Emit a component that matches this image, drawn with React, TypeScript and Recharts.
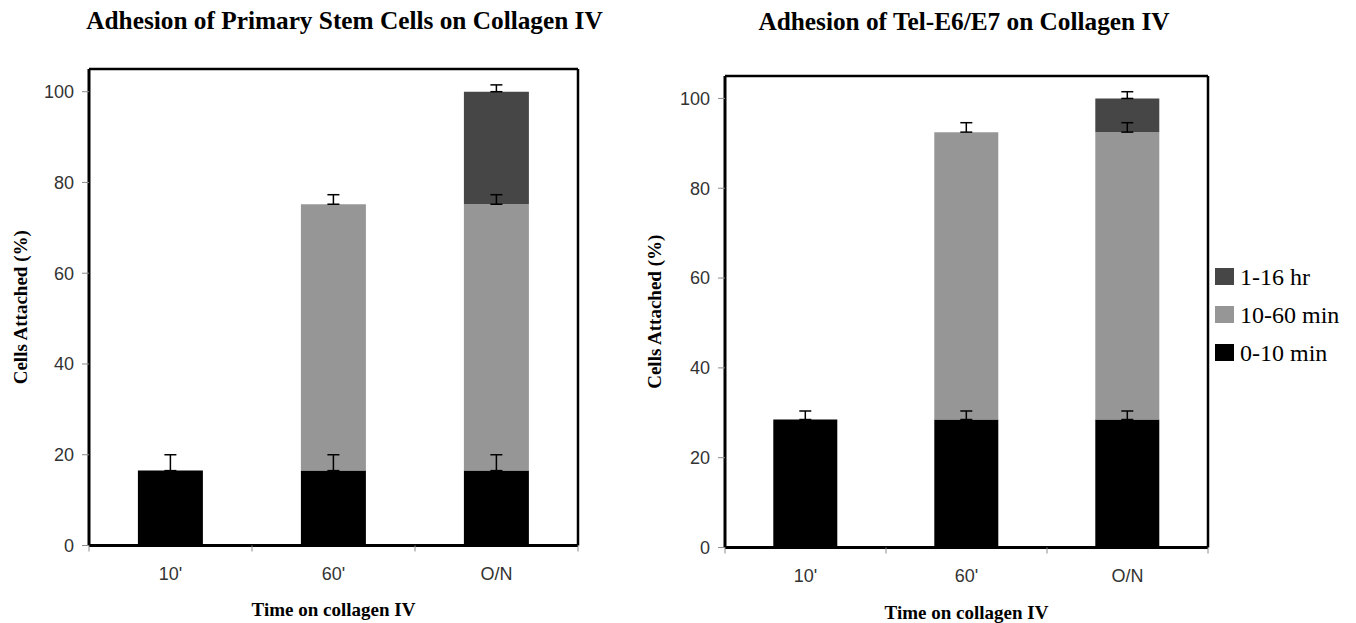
import React from 'react';
import { BarChart, Bar, XAxis, YAxis, ErrorBar, Legend, Label, ReferenceLine } from 'recharts';

const categories = ["10'", "60'", 'O/N'];
const seriesNames = ['0-10 min', '10-60 min', '1-16 hr'];
const seriesColors = ['#000000', '#969696', '#464646'];
const yTicks = [0, 20, 40, 60, 80, 100];
const yMax = 105;

// Primary stem cells
const stemEarly = [16.5, 16.5, 16.5];
const stemMid = [0, 58.7, 58.7];
const stemLate = [0, 0, 24.8];
const stemEarlyErr = [3.5, 3.5, 3.5];
const stemMidErr: (number | null)[] = [null, 2.1, 2.1];
const stemLateErr: (number | null)[] = [null, null, 1.5];

// Tel-E6/E7
const telEarly = [28.5, 28.5, 28.5];
const telMid = [0, 64, 64];
const telLate = [0, 0, 7.5];
const telEarlyErr = [1.9, 1.9, 1.9];
const telMidErr: (number | null)[] = [null, 2.1, 2.1];
const telLateErr: (number | null)[] = [null, null, 1.5];

const up = (e: number | null) => (e == null ? undefined : [0, e]);

const buildRows = (
  early: number[], mid: number[], late: number[],
  eErr: (number | null)[], mErr: (number | null)[], lErr: (number | null)[]
) =>
  categories.map((cat, i) => ({
    cat,
    early: early[i],
    mid: mid[i],
    late: late[i],
    earlyErr: up(eErr[i]),
    midErr: up(mErr[i]),
    lateErr: up(lErr[i]),
  }));

const stemRows = buildRows(stemEarly, stemMid, stemLate, stemEarlyErr, stemMidErr, stemLateErr);
const telRows = buildRows(telEarly, telMid, telLate, telEarlyErr, telMidErr, telLateErr);

const SERIF = '"Liberation Serif", "Times New Roman", serif';
const SANS = '"Liberation Sans", Arial, sans-serif';

const renderLegend = (props: any) => {
  const items = [...(props.payload || [])].sort(
    (a: any, b: any) => seriesNames.indexOf(b.value) - seriesNames.indexOf(a.value)
  );
  return (
    <div style={{ position: 'relative', width: 140, height: 120 }}>
      {items.map((it: any, i: number) => (
        <div key={it.value} style={{ position: 'absolute', left: 0, top: i * 38, width: 140, height: 38 }}>
          <div style={{ position: 'absolute', left: 0, top: 6, width: 19, height: 17, background: it.color }} />
          <span
            style={{
              position: 'absolute', left: 25, top: 3, fontFamily: SERIF, fontSize: 24,
              lineHeight: '24px', whiteSpace: 'nowrap', color: '#000',
            }}
          >
            {it.value}
          </span>
        </div>
      ))}
    </div>
  );
};

const yLabelContent = (x: number) => (props: any) => {
  const vb = props.viewBox || { y: 0, height: 0 };
  const cy = vb.y + vb.height / 2;
  return (
    <text
      x={x}
      y={cy}
      transform={`rotate(-90 ${x} ${cy})`}
      textAnchor="middle"
      fontFamily={SERIF}
      fontSize={19}
      fontWeight="bold"
      fill="#000"
    >
      Cells Attached (%)
    </text>
  );
};

// category tick: label at the band centre, small tick marks at the band boundaries
const CatTick = (props: any) => {
  const { x, y, payload, width, visibleTicksCount, index } = props;
  const half = width && visibleTicksCount ? width / visibleTicksCount / 2 : 0;
  return (
    <g>
      <line x1={x - half} x2={x - half} y1={y} y2={y + 6} stroke="#8c8c8c" strokeWidth={1} />
      {index === visibleTicksCount - 1 ? (
        <line x1={x + half} x2={x + half} y1={y} y2={y + 6} stroke="#8c8c8c" strokeWidth={1} />
      ) : null}
      <text x={x} y={y + 34.5} textAnchor="middle" fontFamily={SANS} fontSize={18} fill="#333">
        {payload.value}
      </text>
    </g>
  );
};

type PanelProps = {
  rows: any[];
  width: number;
  height: number;
  margin: { top: number; right: number; bottom: number; left: number };
  yAxisWidth: number;
  xAxisHeight: number;
  yLabelX: number;
  xLabelOffset: number;
  legend?: boolean;
};

function Panel({ rows, width, height, margin, yAxisWidth, xAxisHeight, yLabelX, xLabelOffset, legend }: PanelProps) {
  const keys = ['early', 'mid', 'late'];
  const errKeys = ['earlyErr', 'midErr', 'lateErr'];
  return (
    <BarChart width={width} height={height} data={rows} margin={margin} barCategoryGap="30%">
      <XAxis
        xAxisId="cat"
        dataKey="cat"
        type="category"
        height={xAxisHeight}
        axisLine={{ stroke: '#000', strokeWidth: 3 }}
        tickLine={false}
        tickSize={0}
        tickMargin={0}
        interval={0}
        tick={<CatTick />}
      >
        <Label
          value="Time on collagen IV"
          position="insideBottom"
          offset={xLabelOffset}
          fontFamily={SERIF}
          fontSize={19}
          fontWeight="bold"
          fill="#000"
        />
      </XAxis>
      <YAxis
        yAxisId="v"
        type="number"
        domain={[0, yMax]}
        ticks={yTicks}
        interval={0}
        allowDataOverflow
        width={yAxisWidth}
        axisLine={{ stroke: '#000', strokeWidth: 3 }}
        tickLine={{ stroke: '#8c8c8c', strokeWidth: 1 }}
        tickSize={7}
        tickMargin={8}
        tick={{ fontSize: 18, fill: '#333', fontFamily: SANS }}
      >
        <Label content={yLabelContent(yLabelX)} />
      </YAxis>
      {keys.map((k, i) => (
        <Bar
          key={k}
          xAxisId="cat"
          yAxisId="v"
          dataKey={k}
          name={seriesNames[i]}
          stackId="s"
          fill={seriesColors[i]}
          isAnimationActive={false}
        >
          <ErrorBar dataKey={errKeys[i]} direction="y" width={6} stroke="#000" strokeWidth={1.5} />
        </Bar>
      ))}
      <ReferenceLine xAxisId="cat" yAxisId="v" y={yMax} stroke="#000" strokeWidth={2.5} ifOverflow="visible" />
      <ReferenceLine
        xAxisId="cat"
        yAxisId="v"
        x={categories[categories.length - 1]}
        position="end"
        stroke="#000"
        strokeWidth={2.5}
        ifOverflow="visible"
      />
      {legend ? (
        <Legend
          layout="horizontal"
          verticalAlign="middle"
          align="right"
          content={renderLegend}
          wrapperStyle={{ position: 'absolute', left: 575, top: 262, right: 'auto', bottom: 'auto', width: 140, height: 120 }}
        />
      ) : null}
    </BarChart>
  );
}

export default function App() {
  return (
    <div style={{ position: 'absolute', left: 0, top: 0, width: 1356, height: 623, background: '#fff' }}>
      <svg
        width={1356}
        height={623}
        style={{ position: 'absolute', left: 0, top: 0, pointerEvents: 'none' }}
      >
        <text x={344.5} y={29} textAnchor="middle" fontFamily={SERIF} fontWeight="bold" fontSize={25.3} fill="#000">
          Adhesion of Primary Stem Cells on Collagen IV
        </text>
        <text x={964} y={30} textAnchor="middle" fontFamily={SERIF} fontWeight="bold" fontSize={25.3} fill="#000">
          Adhesion of Tel-E6/E7 on Collagen IV
        </text>
      </svg>
      <div style={{ position: 'absolute', left: 0, top: 0 }}>
        <Panel
          rows={stemRows}
          width={640}
          height={623}
          margin={{ top: 69, right: 62, bottom: 0, left: 0 }}
          yAxisWidth={89}
          xAxisHeight={77.5}
          yLabelX={27}
          xLabelOffset={7}
        />
      </div>
      <div style={{ position: 'absolute', left: 640, top: 0 }}>
        <Panel
          rows={telRows}
          width={716}
          height={623}
          margin={{ top: 76, right: 8, bottom: 0, left: 0 }}
          yAxisWidth={85}
          xAxisHeight={75.5}
          yLabelX={21}
          xLabelOffset={4}
          legend
        />
      </div>
    </div>
  );
}
